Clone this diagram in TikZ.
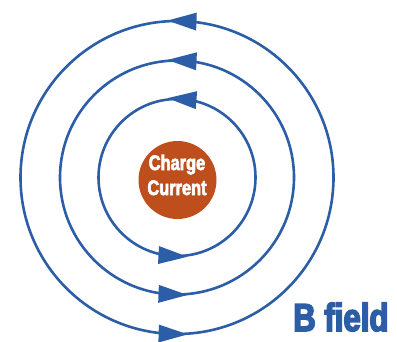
\documentclass[tikz,border=0pt]{standalone}
\usepackage{fontspec}
\newfontfamily\impactfont[FakeStretch=0.78,FakeBold=3]{Liberation Sans Bold}
\newfontfamily\impactfontB[FakeStretch=0.8,FakeBold=4]{Liberation Sans Bold}
\definecolor{fieldblue}{RGB}{44,94,168}
\definecolor{chargered}{RGB}{190,78,28}
\tikzset{
  fieldline/.style={draw=fieldblue, line width=2.6pt},
  fieldarrow/.style={fill=fieldblue},
  charge/.style={circle, fill=chargered, minimum size=78pt, inner sep=0pt},
}
\begin{document}
\begin{tikzpicture}[x=1pt,y=1pt]
\useasboundingbox (0,0) rectangle (397,341);
\coordinate (C) at (177,163.5);
\foreach \r/\ta/\tb in {78.5/86/266.7, 117/87.3/267.8, 156.5/88/268.4} {
  \draw[fieldline] (C) circle (\r);
  \begin{scope}[shift={(C)}, rotate=\ta]
    \fill[fieldarrow] (\r,15) -- (\r-9,-14) -- (\r+9,-14) -- cycle;
  \end{scope}
  \begin{scope}[shift={(C)}, rotate=\tb]
    \fill[fieldarrow] (\r,15) -- (\r-9,-14) -- (\r+9,-14) -- cycle;
  \end{scope}
}
\node[charge] (q) at (177.5,161) {};
\node[align=center, text=white, font=\impactfont\fontsize{21}{25}\selectfont] (qt) at (177,166) {Charge\\Current};
\node[anchor=base west, inner sep=0pt, text depth=0pt, text=fieldblue, font=\impactfontB\fontsize{39}{40}\selectfont] (bf) at (293,10) {B field};
\end{tikzpicture}
\end{document}
